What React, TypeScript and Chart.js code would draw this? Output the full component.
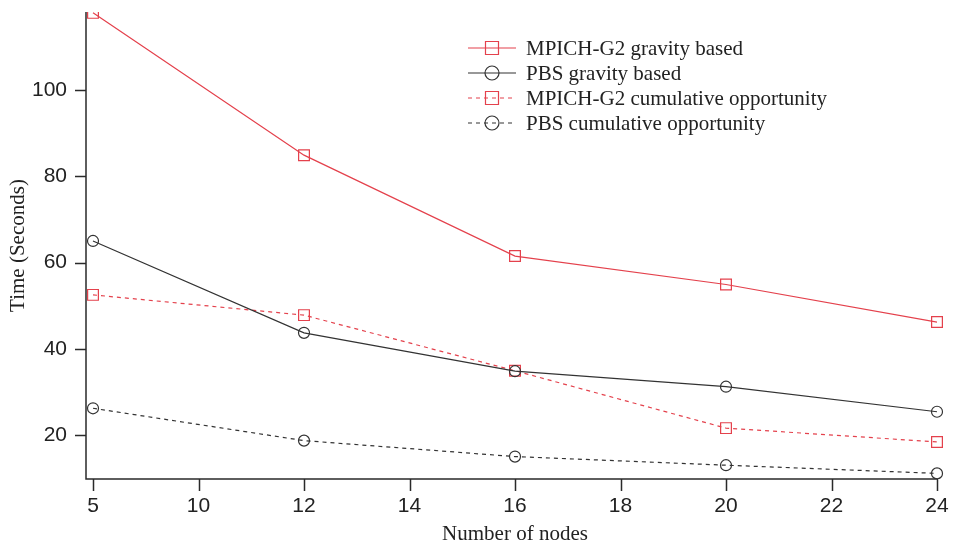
import React, { useEffect, useRef } from "react";
import { Chart, registerables } from "chart.js";

Chart.register(...registerables);

// ---- data ----
const xTickLabels = ["5", "10", "12", "14", "16", "18", "20", "22", "24"];
const nodes = ["5", "12", "16", "20", "24"];
const mpichGravity = [117.9, 84.9, 61.5, 54.9, 46.2];
const pbsGravity = [65.0, 43.7, 34.8, 31.2, 25.4];
const mpichCumulative = [52.5, 47.8, 34.9, 21.6, 18.4];
const pbsCumulative = [26.2, 18.7, 15.0, 13.0, 11.1];
const yTicks = [20, 40, 60, 80, 100];
const seriesNames = [
  "MPICH-G2 gravity based",
  "PBS gravity based",
  "MPICH-G2 cumulative opportunity",
  "PBS cumulative opportunity",
];
const yMin = 9.8;
const yMax = 118.1;

const RED = "#e4414c";
const DARK = "#333333";
const AXIS = "#2a2a2a";
const TEXT = "#222222";
const SANS = "'Liberation Sans', Arial, sans-serif";
const SERIF = "'Liberation Serif', 'Times New Roman', serif";

const toPoints = (vals: number[]) => nodes.map((n, i) => ({ x: n, y: vals[i] }));

const customPlugin = {
  id: "customAxesLegend",
  beforeDatasetsDraw(chart: any) {
    const { ctx, chartArea, scales } = chart;
    const axisX = chartArea.left - 7;
    const axisY = chartArea.bottom;
    ctx.save();
    ctx.strokeStyle = AXIS;
    ctx.lineWidth = 1.5;
    ctx.setLineDash([]);
    ctx.beginPath();
    ctx.moveTo(axisX, chartArea.top);
    ctx.lineTo(axisX, axisY);
    ctx.lineTo(chartArea.right, axisY);
    ctx.stroke();
    ctx.beginPath();
    for (const t of scales.y.ticks) {
      const py = Math.round(scales.y.getPixelForValue(t.value)) + 0.5;
      ctx.moveTo(axisX - 11, py);
      ctx.lineTo(axisX, py);
    }
    scales.x.ticks.forEach((_t: any, i: number) => {
      const px = Math.round(scales.x.getPixelForTick(i)) + 0.5;
      ctx.moveTo(px, axisY);
      ctx.lineTo(px, axisY + 12);
    });
    ctx.stroke();
    ctx.restore();
  },
  afterDraw(chart: any) {
    const { ctx, chartArea } = chart;
    const x0 = chartArea.left + 375;
    const y0 = chartArea.top + 36;
    const rowH = 25;
    ctx.save();
    chart.data.datasets.forEach((ds: any, i: number) => {
      const y = y0 + i * rowH;
      ctx.strokeStyle = ds.borderColor;
      ctx.lineWidth = ds.borderWidth;
      ctx.setLineDash(ds.borderDash || []);
      ctx.beginPath();
      ctx.moveTo(x0, y);
      ctx.lineTo(x0 + 48, y);
      ctx.stroke();
      ctx.setLineDash([]);
      ctx.lineWidth = 1.2;
      const cx = x0 + 24;
      ctx.beginPath();
      if (ds.pointStyle === "rect") {
        ctx.rect(cx - 6.5, y - 6.5, 13, 13);
      } else {
        ctx.arc(cx, y, 7, 0, Math.PI * 2);
      }
      ctx.stroke();
      ctx.fillStyle = TEXT;
      ctx.font = `21px ${SERIF}`;
      ctx.textBaseline = "middle";
      ctx.textAlign = "left";
      ctx.fillText(ds.label, x0 + 58, y + 1);
    });
    ctx.restore();
  },
};

export default function App() {
  const canvasRef = useRef<HTMLCanvasElement | null>(null);

  useEffect(() => {
    const canvas = canvasRef.current;
    if (!canvas) return;
    const mk = (label: string, vals: number[], color: string, dash: number[], style: string, radius: number) => ({
      label,
      data: toPoints(vals),
      borderColor: color,
      borderWidth: 1.2,
      borderDash: dash,
      pointStyle: style,
      pointRadius: radius,
      pointBorderWidth: 1.2,
      pointBorderColor: color,
      pointBackgroundColor: "rgba(0,0,0,0)",
      fill: false,
      tension: 0,
    });
    const chart = new Chart(canvas, {
      type: "line",
      data: {
        labels: xTickLabels,
        datasets: [
          mk(seriesNames[0], mpichGravity, RED, [], "rect", 7.6),
          mk(seriesNames[1], pbsGravity, DARK, [], "circle", 5.5),
          mk(seriesNames[2], mpichCumulative, RED, [4, 4], "rect", 7.6),
          mk(seriesNames[3], pbsCumulative, DARK, [4, 4], "circle", 5.5),
        ] as any,
      },
      options: {
        animation: false,
        responsive: false,
        maintainAspectRatio: false,
        layout: { padding: { top: 12, right: 19, bottom: 0, left: 0 } },
        plugins: {
          legend: { display: false },
          tooltip: { enabled: false },
        },
        scales: {
          x: {
            type: "category",
            offset: false,
            grid: { display: false, drawTicks: false },
            border: { display: false },
            ticks: {
              autoSkip: false,
              maxRotation: 0,
              padding: 15,
              color: TEXT,
              font: { family: SANS, size: 21 },
            },
            title: {
              display: true,
              text: "Number of nodes",
              color: TEXT,
              font: { family: SERIF, size: 21 },
              padding: { top: 0, bottom: 0 },
            },
            afterFit: (s: any) => {
              s.height = 68;
              s.paddingLeft = 0;
              s.paddingRight = 0;
            },
          },
          y: {
            type: "linear",
            min: yMin,
            max: yMax,
            grid: { display: false, drawTicks: false },
            border: { display: false },
            afterBuildTicks: (s: any) => {
              s.ticks = yTicks.map((v) => ({ value: v }));
            },
            ticks: {
              padding: 26,
              color: TEXT,
              font: { family: SANS, size: 21 },
            },
            title: {
              display: true,
              text: "Time (Seconds)",
              color: TEXT,
              font: { family: SERIF, size: 21 },
              padding: { top: 6, bottom: 0 },
            },
            afterFit: (s: any) => {
              s.width = 93;
              s.paddingTop = 0;
              s.paddingBottom = 0;
            },
          },
        },
      },
      plugins: [customPlugin],
    });
    return () => chart.destroy();
  }, []);

  return (
    <div style={{ position: "fixed", left: 0, top: 0, width: 956, height: 547, background: "#fff" }}>
      <canvas ref={canvasRef} width={956} height={547} style={{ display: "block" }} />
    </div>
  );
}
